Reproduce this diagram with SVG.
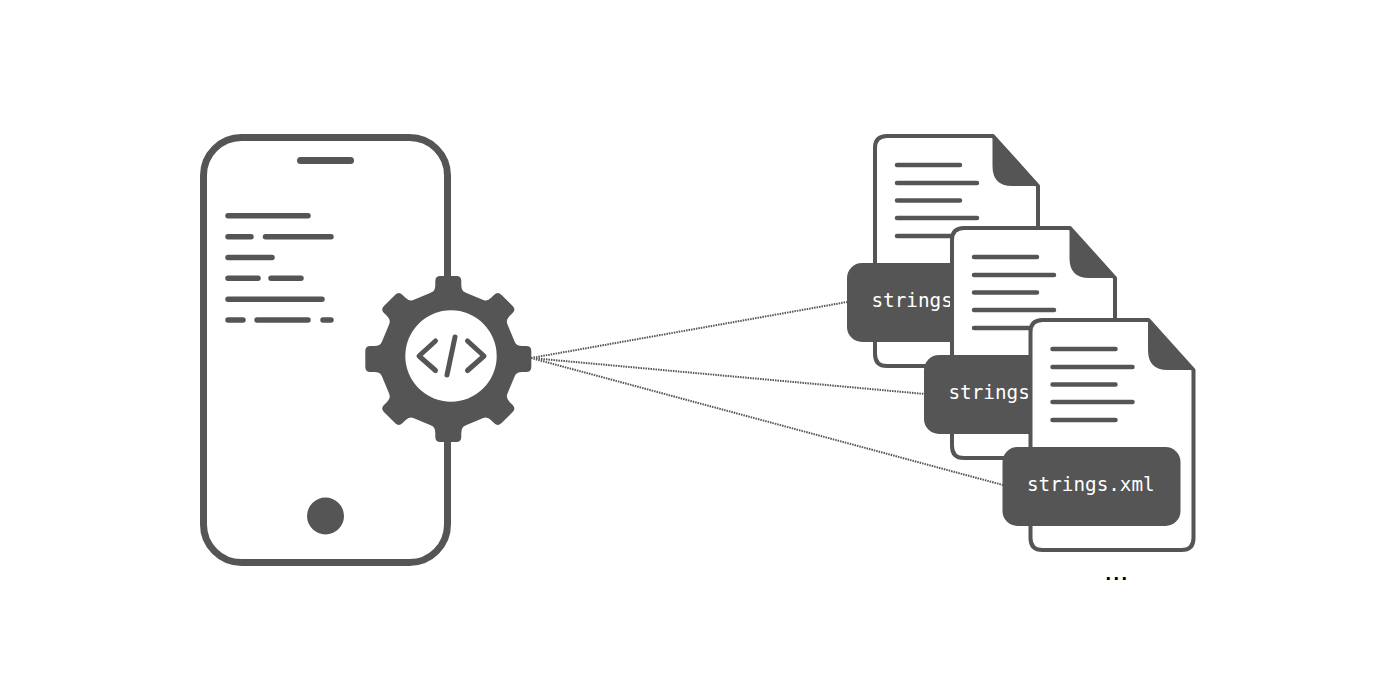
<svg xmlns="http://www.w3.org/2000/svg" xmlns:xlink="http://www.w3.org/1999/xlink" width="1400" height="700" viewBox="0 0 1400 700">
<style>
.ln{stroke:#555;stroke-linecap:round;fill:none}
.ph{stroke-width:5.500}
.dc{stroke-width:4.500}
.dk{fill:#555}
.body{fill:#fff;stroke:#555;stroke-width:4;stroke-linejoin:round}
.lbl{font-family:"DejaVu Sans Mono",monospace;font-size:19.300px;fill:#fff}
.conn{stroke:#555;stroke-width:2;stroke-dasharray:1.500 1;fill:none}
</style>
<defs>
<path id="tooth" class="dk" d="M-17,-50 L-17,-66.500 Q-13,-68 -13,-74 L-13,-78 Q-13,-83 -8,-83 L8,-83 Q13,-83 13,-78 L13,-74 Q13,-68 17,-66.500 L17,-50 Z"/>
<g id="doc">
<path class="body" d="M887,136 L993,136 L1038,186 L1038,354 Q1038,366 1026,366 L887,366 Q875,366 875,354 L875,148 Q875,136 887,136 Z"/>
<path class="dk" d="M992.500,135 L1039,186 L1012,186 Q992.500,186 992.500,166 Z"/>
<path class="ln dc" d="M897,165 H960 M897,183 H977 M897,200.500 H960 M897,218 H977 M897,236 H960"/>
<rect class="dk" x="847" y="263" width="178" height="79" rx="15"/>
<text class="lbl" x="871.500" y="307">strings.xml</text>
</g>
</defs>
<g id="phone">
<rect x="203.500" y="137.500" width="244" height="425" rx="38" fill="#fff" stroke="#555" stroke-width="7"/>
<path class="ln" stroke-width="7" d="M300.500,160.500 H350.500"/>
<path class="ln ph" d="M228,215.700 H308 M228,236.700 H251 M265.500,236.700 H331 M228,257.500 H272 M228,278.300 H258 M271,278.300 H301 M228,299.200 H322 M228,320 H243 M257,320 H308 M323,320 H331"/>
<circle class="dk" cx="325.500" cy="516" r="18.500"/>
</g>
<g id="connectors">
<path class="conn" d="M531,358 L847,302 M531,358 L925,394 M531,358 L1003,485"/>
</g>
<g id="gear">
<g transform="translate(448.300 359)">
<polygon class="dk" points="-17,-66.500 17,-66.500 35,-59 59,-35 66.500,-17 66.500,17 59,35 35,59 17,66.500 -17,66.500 -35,59 -59,35 -66.500,17 -66.500,-17 -59,-35 -35,-59"/>
<use href="#tooth"/>
<use href="#tooth" transform="rotate(45)"/>
<use href="#tooth" transform="rotate(90)"/>
<use href="#tooth" transform="rotate(135)"/>
<use href="#tooth" transform="rotate(180)"/>
<use href="#tooth" transform="rotate(225)"/>
<use href="#tooth" transform="rotate(270)"/>
<use href="#tooth" transform="rotate(315)"/>
</g>
<circle cx="451" cy="356" r="45.700" fill="#fff"/>
<path class="ln" stroke-width="5" stroke-linejoin="round" d="M435.500,341 L419,356 L435.500,370.500 M467.500,341 L484,356 L467.500,370.500 M455,337 L447,375"/>
</g>
<g id="file-1"><use href="#doc"/></g>
<g id="file-2"><use href="#doc" transform="translate(77 92)"/></g>
<g id="file-3"><use href="#doc" transform="translate(155.500 184)"/></g>
<text id="more" x="1105.500" y="580" font-family="Liberation Sans, sans-serif" font-weight="bold" font-size="20" letter-spacing="2.500" fill="#000">...</text>
</svg>
